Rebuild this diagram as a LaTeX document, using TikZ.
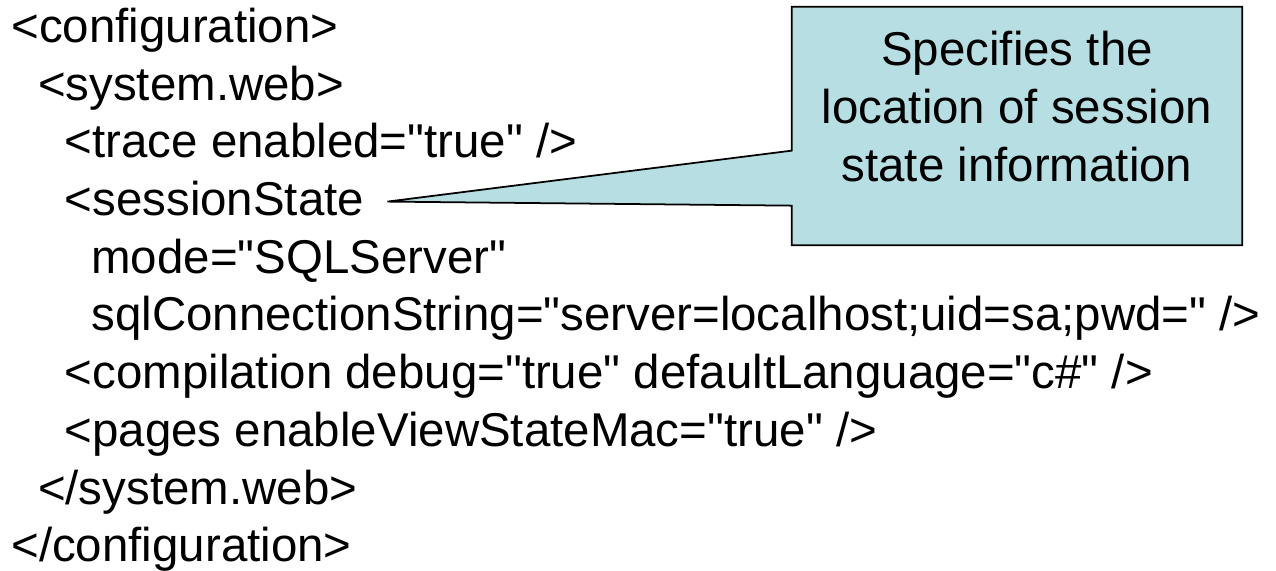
\documentclass[tikz,border=0pt]{standalone}
\usepackage{fontspec}
\newfontfamily\codefont{Liberation Sans}
\usetikzlibrary{positioning,calc}
\definecolor{notefill}{HTML}{B7DEE2}
\definecolor{noteline}{HTML}{000000}

\begin{document}
\begin{tikzpicture}[
  code/.style={anchor=base west, inner sep=0pt, font=\codefont\fontsize{27}{33}\selectfont},
  note/.style={align=center, inner sep=0pt, font=\codefont\fontsize{27}{33}\selectfont},
  callout/.style={fill=notefill, draw=noteline, line width=1pt, line join=miter},
]
\useasboundingbox (0,0) rectangle (25.52,11.4);
% --- indents and line height ---
\def\xa{0.22}  \def\xb{0.754}  \def\xc{1.288}  \def\xd{1.822}
\def\ytop{10.55}  \def\lh{1.154}
% --- xml lines ---
\node[code] (cfg)       at (\xa,\ytop)         {<configuration>};
\node[code] (sysweb)    at (\xb,\ytop-1*\lh)   {<system.web>};
\node[code] (trace)     at (\xc,\ytop-2*\lh)   {<trace enabled="true" />};
\node[code] (sess)      at (\xc,\ytop-3*\lh)   {<sessionState};
\node[code] (mode)      at (\xd,\ytop-4*\lh)   {mode="SQLServer"};
\node[code] (sqlcs)     at (\xd,\ytop-5*\lh)   {sqlConnectionString="server=localhost;uid=sa;pwd=" />};
\node[code] (comp)      at (\xc,\ytop-6*\lh)   {<compilation debug="true" defaultLanguage="c\#" />};
\node[code] (pages)     at (\xc,\ytop-7*\lh)   {<pages enableViewStateMac="true" />};
\node[code] (syswebend) at (\xb,\ytop-8*\lh)   {</system.web>};
\node[code] (cfgend)    at (\xa,\ytop-9*\lh)   {</configuration>};
% --- callout ---
\node[minimum width=9cm, minimum height=4.76cm, inner sep=0pt] (box) at (20.34,8.88) {};
\coordinate (tip) at ($(sess.base east)+(0.46,0.28)$);
\draw[callout] (box.north west) -- (box.north east) -- (box.south east)
  -- (box.south west) -- ($(box.north west)+(0,-3.98)$) -- (tip)
  -- ($(box.north west)+(0,-2.88)$) -- cycle;
% base of the last line
\node[note, anchor=base] (notetxt) at ($(box.north)+(0,-3.5)$)
  {Specifies the\\location of session\\state information};
\end{tikzpicture}
\end{document}
